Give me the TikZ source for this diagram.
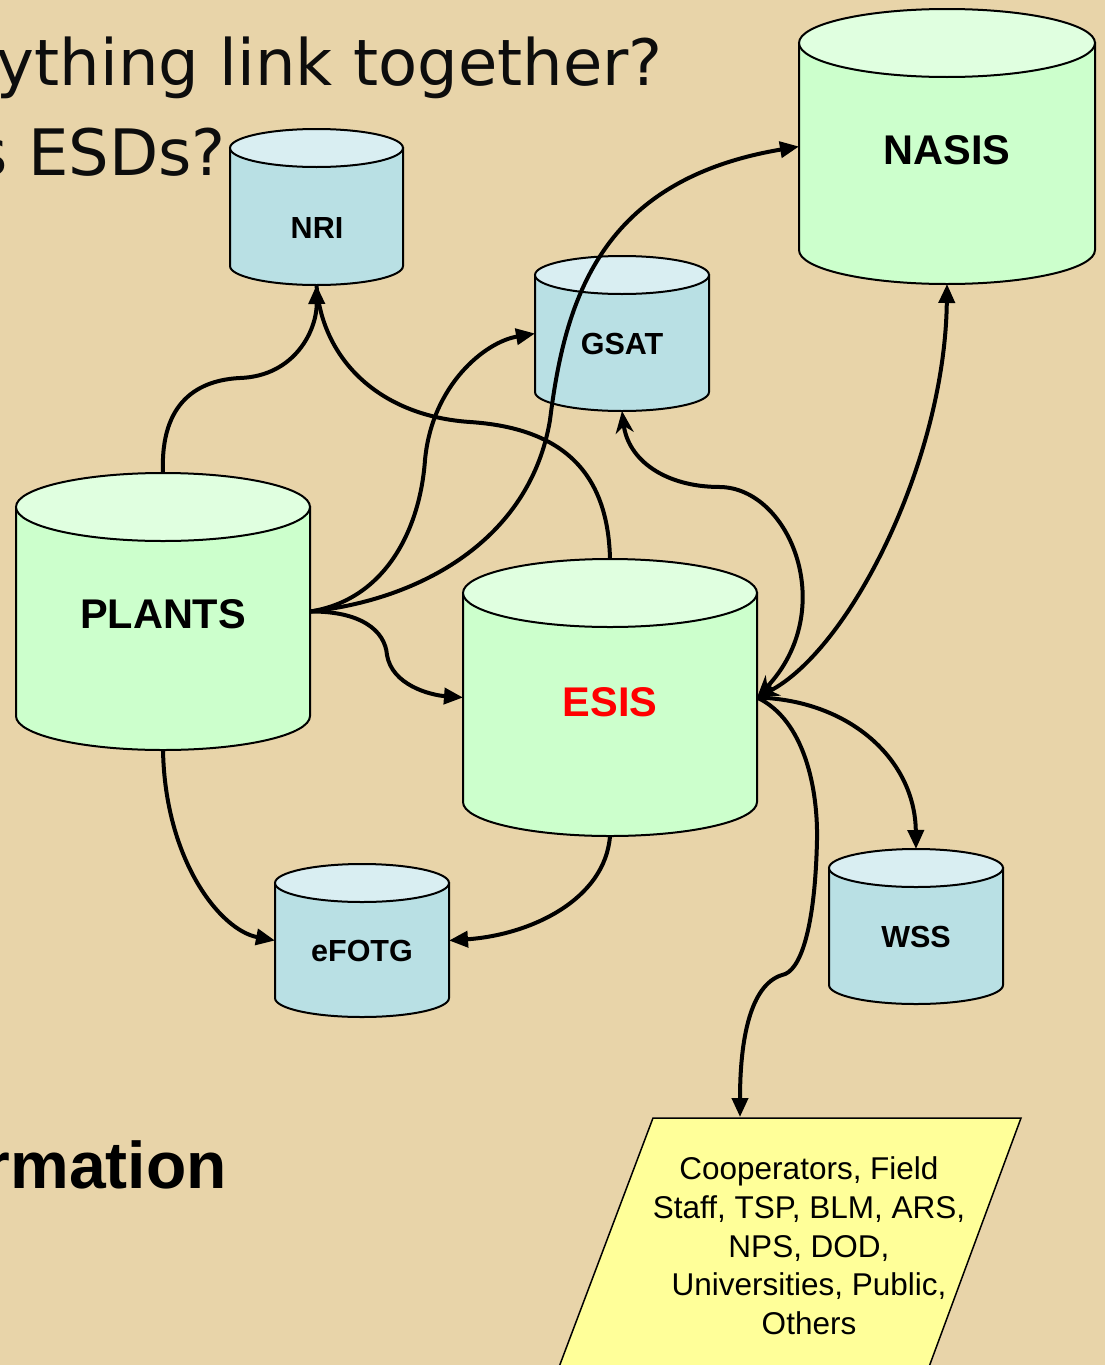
\documentclass[tikz,border=0pt]{standalone}
\usepackage{fontspec}
\setmainfont{Liberation Sans}
\newfontfamily\titlefont{DejaVu Sans}
\usetikzlibrary{arrows.meta}
\definecolor{bgcol}{HTML}{E8D4A9}
\definecolor{bluebody}{HTML}{B9E0E4}
\definecolor{bluetop}{HTML}{D9EEF2}
\definecolor{greenbody}{HTML}{CCFFCC}
\definecolor{greentop}{HTML}{E0FFE0}
\definecolor{noteyellow}{HTML}{FFFF99}
\definecolor{esisred}{HTML}{FF0000}

\tikzset{
  outline/.style={draw=black, line width=2pt},
  frame/.style={rectangle, inner sep=0pt, outer sep=0pt},
  link/.style={draw=black, line width=4pt},
  tiptri/.style={-{Triangle[length=19pt,width=16pt]}},
  bigl/.style={font=\bfseries\fontsize{41.5}{48}\selectfont, inner sep=0pt},
  smalll/.style={font=\bfseries\fontsize{30.5}{36}\selectfont, inner sep=0pt},
}

% #1 name, #2 xl, #3 xr, #4 top ellipse centre y, #5 bottom ellipse centre y, #6 ry, #7 body colour, #8 top colour
\newcommand{\dbcyl}[8]{%
  \pgfmathsetmacro{\cylcx}{(#2+#3)/2}%
  \pgfmathsetmacro{\cylrx}{(#3-#2)/2}%
  \pgfmathsetmacro{\cylcy}{((#4-#6)+(#5+#6))/2}%
  \pgfmathsetmacro{\cylh}{(#5+#6)-(#4-#6)}%
  \pgfmathsetmacro{\cylw}{#3-#2}%
  \filldraw[outline, fill=#7] (#2,#4) -- (#2,#5) arc[start angle=180, end angle=0, x radius=\cylrx, y radius=#6] -- (#3,#4) -- cycle;
  \filldraw[outline, fill=#8] (\cylcx,#4) ellipse[x radius=\cylrx, y radius=#6];
  \node[frame, minimum width=\cylw pt, minimum height=\cylh pt] (#1) at (\cylcx,\cylcy) {};
}

\begin{document}
\begin{tikzpicture}[x=1pt,y=-1pt]
\useasboundingbox (0,0) rectangle (1105,1365);
\clip (0,0) rectangle (1105,1365);
\fill[bgcol] (0,0) rectangle (1105,1365);

% title fragments
\node[anchor=base east, inner sep=0pt, font=\titlefont\fontsize{64}{70}\selectfont, text=black!95] (title1) at (663,85) {ything link together?};
\node[anchor=base east, inner sep=0pt, font=\titlefont\fontsize{64}{70}\selectfont, text=black!95] (title2) at (226,175) {s ESDs?};
\node[anchor=base east, inner sep=0pt, font=\bfseries\fontsize{66}{72}\selectfont] (info) at (227,1188) {rmation};

% cylinders
\dbcyl{nri}{230}{403}{148}{266}{19}{bluebody}{bluetop}
\dbcyl{gsat}{535}{709}{275}{392}{19}{bluebody}{bluetop}
\dbcyl{efotg}{275}{449}{883}{998}{19}{bluebody}{bluetop}
\dbcyl{wss}{829}{1003}{868}{985}{19}{bluebody}{bluetop}
\dbcyl{nasis}{799}{1095}{43}{250}{34}{greenbody}{greentop}
\dbcyl{plants}{16}{310}{507}{716}{34}{greenbody}{greentop}
\dbcyl{esis}{463}{757}{593}{802}{34}{greenbody}{greentop}

% labels
\node[smalll] (nril) at (317,228) {NRI};
\node[smalll] (gsatl) at (622,344) {GSAT};
\node[smalll] (efotgl) at (362,951) {eFOTG};
\node[smalll] (wssl) at (916,937) {WSS};
\node[bigl] (nasisl) at (947,150) {NASIS};
\node[bigl] (plantsl) at (163,614) {PLANTS};
\node[bigl, text=esisred] (esisl) at (610,702) {ESIS};

% users parallelogram
\filldraw[draw=black, line width=1.5pt, fill=noteyellow] (653,1118) -- (1021,1118) -- (926,1375) -- (556,1375) -- cycle;
\coordinate (userstop) at (740,1117);
\node[inner sep=0pt, align=center, font=\fontsize{31.5}{38.7}\selectfont] (users) at (809,1246)
  {Cooperators, Field\\Staff, TSP, BLM, ARS,\\NPS, DOD,\\Universities, Public,\\Others};

% connectors
\draw[link, tiptri] (plants.north) .. controls (160,400) and (200,380) .. (240,378)
  .. controls (295,376) and (317,330) .. (nri.south);
\draw[link] (esis.north) .. controls (608,470) and (560,428) .. (470,422)
  .. controls (380,416) and (322,360) .. (nri.south);
\draw[link, tiptri] (plants.east) .. controls (385,600) and (420,530) .. (425,460)
  .. controls (432,385) and (485,342) .. (gsat.west);
\draw[link, tiptri] (plants.east) .. controls (420,600) and (530,540) .. (550,420)
  .. controls (565,300) and (600,180) .. (nasis.west);
\draw[link, tiptri] (plants.east) .. controls (360,611) and (385,630) .. (387,655)
  .. controls (392,685) and (430,695) .. (esis.west);
\draw[link, tiptri] (plants.south) .. controls (165,860) and (220,930) .. (efotg.west);
\draw[link, tiptri] (esis.south) .. controls (605,900) and (530,935) .. (efotg.east);
\draw[link, {Stealth[length=22pt,width=18pt,inset=7pt]}-{Stealth[length=22pt,width=18pt,inset=7pt]}]
  (gsat.south) .. controls (628,460) and (665,487) .. (720,487)
  .. controls (790,488) and (840,610) .. (esis.east);
\draw[link, {Triangle[length=19pt,width=16pt]}-{Stealth[length=22pt,width=18pt,inset=7pt]}]
  (nasis.south) .. controls (945,460) and (850,650) .. (esis.east);
\draw[link, tiptri] (esis.east) .. controls (850,700) and (915,760) .. (wss.north);
\draw[link, tiptri] (esis.east) .. controls (805,720) and (818,790) .. (817,840)
  .. controls (815,930) and (800,972) .. (782,975)
  .. controls (750,985) and (740,1040) .. (userstop);
\end{tikzpicture}
\end{document}
